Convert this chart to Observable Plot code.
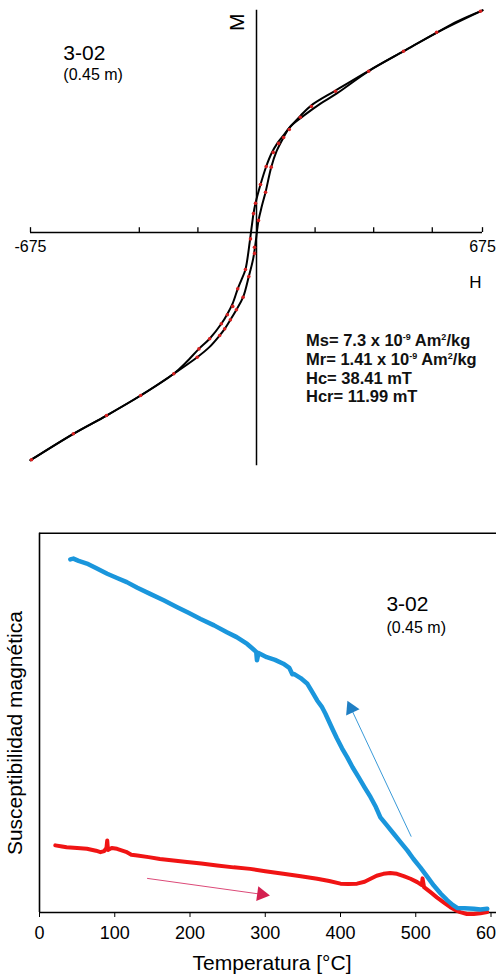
<!DOCTYPE html>
<html><head><meta charset="utf-8">
<script src="https://cdn.jsdelivr.net/npm/d3@7"></script>
<script src="https://cdn.jsdelivr.net/npm/@observablehq/plot@0.6"></script>
<style>
html,body{margin:0;padding:0;background:#fff;}
body{width:496px;height:974px;overflow:hidden;position:relative;font-family:"Liberation Sans",Arial,sans-serif;}
#hyst svg,#susc svg{display:block;}
#stats{position:absolute;left:306px;top:331px;font-weight:bold;font-size:16.5px;line-height:18.8px;color:#111;white-space:nowrap;}
#stats .s{font-size:9px;vertical-align:6px;line-height:0;}
</style></head><body>
<div id="hyst"></div><div id="susc"></div>
<div id="stats"></div>
<script>
// ---------- Hysteresis loop (normalised M) ----------
const descH = [675, 600, 540, 440, 335, 236, 164, 131, 98, 80, 62, 45, 29, 12, -3, -9, -14, -20, -33, -45, -56, -71, -87, -105, -140, -172, -210, -247, -346, -448, -547, -675];
const descM = [1.01, 0.96, 0.91, 0.825, 0.735, 0.645, 0.578, 0.53, 0.475, 0.44, 0.405, 0.36, 0.30, 0.218, 0.133, 0.086, 0.03, -0.04, -0.168, -0.215, -0.256, -0.322, -0.37, -0.415, -0.483, -0.529, -0.59, -0.642, -0.741, -0.832, -0.915, -1.035];
const ascH = [-675, -547, -448, -346, -247, -177, -140, -110, -95, -78, -60, -40, -23, -10, -3, 6, 16, 27, 44, 60, 80, 100, 140, 190, 240, 335, 440, 540, 675];
const ascM = [-1.035, -0.915, -0.832, -0.741, -0.642, -0.567, -0.52, -0.468, -0.438, -0.397, -0.351, -0.294, -0.2, -0.12, -0.05, 0.055, 0.12, 0.183, 0.297, 0.37, 0.43, 0.48, 0.53, 0.585, 0.632, 0.733, 0.824, 0.91, 1.01];
const dotH = [669, 538, 439, 335, 236, 164, 131, 98, 81, 66, 50, 29, 44, 12, 27, -3, -9, 6, -18, -6, -6, -33, -23, -56, -40, -71, -60, -87, -78, -105, -95, -110, -140, -172, -177, -247, -346, -448, -547, -672];
const dotM = [1.006, 0.91, 0.824, 0.733, 0.642, 0.573, 0.524, 0.468, 0.432, 0.405, 0.364, 0.30, 0.297, 0.218, 0.183, 0.133, 0.086, 0.055, -0.029, -0.067, -0.095, -0.168, -0.2, -0.256, -0.294, -0.336, -0.351, -0.374, -0.397, -0.415, -0.438, -0.468, -0.483, -0.529, -0.567, -0.642, -0.741, -0.832, -0.915, -1.033];
const hTicks = [-675, -350, -175, 175, 350, 525, 675];
const hTickLabels = [-675, 675];
const hystLabels = ["3-02", "(0.45 m)"];
const statLines = [["Ms= 7.3 x 10", "-9", " Am", "2", "/kg"], ["Mr= 1.41 x 10", "-9", " Am", "2", "/kg"], ["Hc= 38.41 mT"], ["Hcr= 11.99 mT"]];

// ---------- Susceptibility vs temperature ----------
const heatT = [21, 30, 36, 50, 63, 75, 81, 86, 89, 90, 91, 96, 103, 115, 122, 130, 145, 160, 178, 196, 215, 236, 258, 280, 300, 324, 345, 369, 385, 400, 410, 422, 432, 440, 448, 457, 466, 475, 484, 493, 502, 508, 509, 511, 520, 528, 537, 546, 552, 559, 568, 577, 586, 595];
const heatK = [0.177, 0.174, 0.172, 0.170, 0.168, 0.163, 0.159, 0.162, 0.170, 0.190, 0.165, 0.170, 0.168, 0.160, 0.152, 0.150, 0.146, 0.141, 0.137, 0.133, 0.129, 0.124, 0.119, 0.115, 0.109, 0.102, 0.096, 0.089, 0.083, 0.076, 0.075, 0.076, 0.081, 0.089, 0.097, 0.102, 0.104, 0.102, 0.096, 0.089, 0.080, 0.072, 0.090, 0.067, 0.053, 0.040, 0.027, 0.014, 0.007, 0.001, -0.004, -0.004, -0.002, 0.001];
const coolT = [41, 45, 52, 63, 75, 90, 103, 116, 130, 147, 165, 183, 198, 214, 232, 249, 262, 276, 283, 288, 289, 291, 302, 313, 324, 332, 336, 338, 347, 356, 362, 369, 375, 380, 389, 395, 402, 409, 416, 424, 432, 440, 447, 453, 462, 471, 480, 489, 497, 506, 515, 524, 533, 542, 549, 555, 565, 577, 586, 595];
const coolK = [0.931, 0.933, 0.927, 0.920, 0.908, 0.893, 0.882, 0.871, 0.856, 0.840, 0.823, 0.805, 0.790, 0.774, 0.757, 0.739, 0.726, 0.708, 0.696, 0.687, 0.665, 0.684, 0.673, 0.666, 0.656, 0.645, 0.628, 0.629, 0.618, 0.603, 0.583, 0.559, 0.543, 0.524, 0.485, 0.460, 0.433, 0.409, 0.383, 0.357, 0.330, 0.304, 0.278, 0.251, 0.229, 0.207, 0.185, 0.163, 0.141, 0.119, 0.095, 0.071, 0.050, 0.032, 0.020, 0.012, 0.011, 0.010, 0.008, 0.010];
const tTicks = [0, 100, 200, 300, 400, 500, 600];
// arrows: [T start, k start, T head, k head, head rotation]
const coolArrow = [494, 0.200, 414, 0.538, -25];
const heatArrow = [143, 0.090, 295, 0.048, 98];
const suscLabels = ["3-02", "(0.45 m)", "Temperatura [°C]", "Susceptibilidad magnética"];

const FONT = "Liberation Sans, Arial, sans-serif";
const desc = descH.map((h, i) => ({h, m: descM[i]}));
const asc = ascH.map((h, i) => ({h, m: ascM[i]}));
const dots = dotH.map((h, i) => ({h, m: dotM[i]}));

const hyst = Plot.plot({
  width: 496, height: 490,
  marginLeft: 30, marginRight: 14, marginTop: 12, marginBottom: 16,
  x: {domain: [-675, 675], axis: null},
  y: {domain: [-1.1, 1.0], axis: null},
  style: {fontFamily: FONT, background: "white", color: "black"},
  marks: [
    Plot.ruleY([0], {x1: -675, x2: 675, stroke: "black", strokeWidth: 1.5}),
    Plot.ruleX(hTicks, {x: d => d, y1: 0, y2: 0.022, stroke: "black", strokeWidth: 1.3}),
    Plot.ruleX([0], {y1: 1.01, y2: -1.06, stroke: "black", strokeWidth: 1.5}),
    Plot.line(desc, {x: "h", y: "m", curve: "catmull-rom", stroke: "black", strokeWidth: 2}),
    Plot.line(asc, {x: "h", y: "m", curve: "catmull-rom", stroke: "black", strokeWidth: 2}),
    Plot.dot(dots, {x: "h", y: "m", r: 1.8, fill: "#d42020"}),
    Plot.text(hTickLabels, {x: d => d, y: -0.0886, text: d => String(d), fontSize: 16, textAnchor: "middle", lineAnchor: "bottom"}),
    Plot.text(["H"], {x: 654, y: -0.2545, fontSize: 17, textAnchor: "middle", lineAnchor: "bottom"}),
    Plot.text(["M"], {x: -58, y: 0.956, fontSize: 21, rotate: -90, textAnchor: "middle", lineAnchor: "middle"}),
    Plot.text([hystLabels[0]], {x: -577, y: 0.785, fontSize: 21, textAnchor: "start", lineAnchor: "bottom"}),
    Plot.text([hystLabels[1]], {x: -577, y: 0.691, fontSize: 16, textAnchor: "start", lineAnchor: "bottom"})
  ]
});
document.getElementById("hyst").append(hyst);

document.getElementById("stats").innerHTML = statLines.map(parts =>
  parts.map((p, i) => i % 2 === 1 ? `<span class="s">${p}</span>` : p).join("")
).join("<br>");

const heat = heatT.map((t, i) => ({t, k: heatK[i]}));
const cool = coolT.map((t, i) => ({t, k: coolK[i]}));
const arrowObj = a => ({x1: a[0], y1: a[1], x2: a[2], y2: a[3], rot: a[4]});

const susc = Plot.plot({
  width: 496, height: 484,
  marginLeft: 39, marginRight: 5.5, marginTop: 42.7, marginBottom: 62,
  x: {domain: [0, 600], ticks: tTicks, tickSize: 5, tickPadding: 9, label: null, tickFormat: d => String(d)},
  y: {domain: [0, 1], axis: null},
  style: {fontFamily: FONT, fontSize: "18px", background: "white", color: "black"},
  marks: [
    Plot.ruleY([0], {x1: 0, x2: 610, stroke: "black", strokeWidth: 1.6}),
    Plot.ruleY([1], {x1: 0, x2: 610, stroke: "black", strokeWidth: 1.6}),
    Plot.ruleX([0], {y1: 0, y2: 1, stroke: "black", strokeWidth: 1.6}),
    Plot.line(heat, {x: "t", y: "k", stroke: "#f01414", strokeWidth: 4}),
    Plot.line(cool, {x: "t", y: "k", stroke: "#1a96dc", strokeWidth: 4.5}),
    Plot.link([arrowObj(coolArrow)], {x1: "x1", y1: "y1", x2: "x2", y2: "y2", stroke: "#3a9ad8", strokeWidth: 1}),
    Plot.dot([arrowObj(coolArrow)], {x: "x2", y: "y2", symbol: "triangle", r: 5.5, rotate: "rot", fill: "#1f7fc4"}),
    Plot.link([arrowObj(heatArrow)], {x1: "x1", y1: "y1", x2: "x2", y2: "y2", stroke: "#dc4a78", strokeWidth: 1}),
    Plot.dot([arrowObj(heatArrow)], {x: "x2", y: "y2", symbol: "triangle", r: 5.5, rotate: "rot", fill: "#d42050"}),
    Plot.text([suscLabels[0]], {x: 461, y: 0.796, fontSize: 21, textAnchor: "start", lineAnchor: "bottom"}),
    Plot.text([suscLabels[1]], {x: 461, y: 0.738, fontSize: 16, textAnchor: "start", lineAnchor: "bottom"}),
    Plot.text([suscLabels[2]], {x: 309, frameAnchor: "bottom", dy: 57, fontSize: 21, textAnchor: "middle", lineAnchor: "bottom"}),
    Plot.text([suscLabels[3]], {x: -32, y: 0.473, fontSize: 21, rotate: -90, textAnchor: "middle", lineAnchor: "middle"})
  ]
});
document.getElementById("susc").append(susc);
</script>
</body></html>
